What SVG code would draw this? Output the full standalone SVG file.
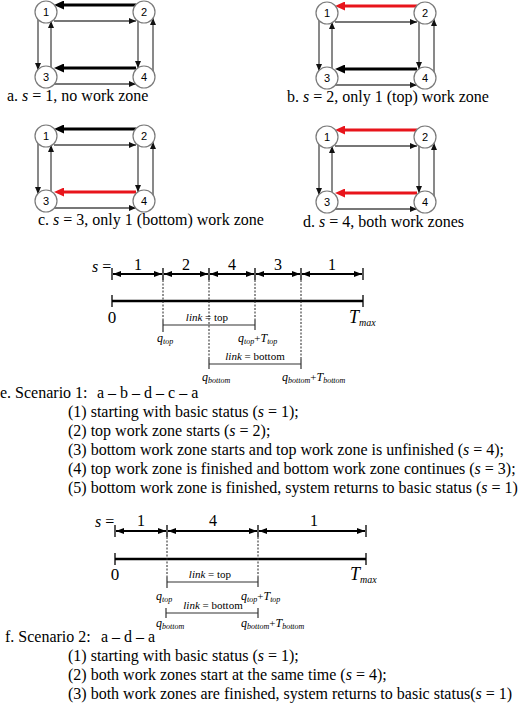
<svg xmlns="http://www.w3.org/2000/svg" width="520" height="720" viewBox="0 0 520 720">
<style>
text{font-family:"Liberation Serif","Times New Roman",serif;fill:#000}
.lbl{font-size:16px}
.nd{font-family:"Liberation Sans",Arial,sans-serif;font-size:11px;text-anchor:middle}
.circ{fill:#fff;stroke:#7a7a7a;stroke-width:1.2}
.thin{stroke:#4a4a4a;stroke-width:1.3;fill:none}
.thick{stroke:#000;stroke-width:3;fill:none}
.red{stroke:#e8141b;stroke-width:3;fill:none}
.tl{stroke:#000;stroke-width:2;fill:none}
.tick{stroke:#000;stroke-width:1.3}
.main{stroke:#000;stroke-width:2.4}
.dash{stroke:#222;stroke-width:1;stroke-dasharray:2 1.5;fill:none}
.bar{stroke:#333;stroke-width:1.2;fill:none}
.sm{font-size:11px}
.q{font-size:12px;font-style:italic}
.i{font-style:italic}
.sub{font-size:8px;font-style:italic}
</style>
<defs>
<marker id="hn" markerUnits="userSpaceOnUse" markerWidth="7" markerHeight="6" refX="7" refY="3" orient="auto"><path d="M0,0 L7,3 L0,6 z" fill="#111"/></marker>
<marker id="hk" markerUnits="userSpaceOnUse" markerWidth="10" markerHeight="9" refX="2" refY="4.5" orient="auto"><path d="M0,0 L10,4.5 L0,9 z" fill="#000"/></marker>
<marker id="hr" markerUnits="userSpaceOnUse" markerWidth="10" markerHeight="9" refX="2" refY="4.5" orient="auto"><path d="M0,0 L10,4.5 L0,9 z" fill="#e8141b"/></marker>
<marker id="ta" markerUnits="userSpaceOnUse" markerWidth="8" markerHeight="6" refX="8" refY="3" orient="auto-start-reverse"><path d="M0,0 L8,3 L0,6 z" fill="#000"/></marker>
</defs>

<!-- Panel a -->
<g id="panel-a">
<g id="a-connectors">
<line class="thick" x1="136" y1="5" x2="62" y2="5" marker-end="url(#hk)"/>
<line class="thin" x1="54" y1="21" x2="136" y2="21" marker-end="url(#hn)"/>
<line class="thin" x1="38" y1="19" x2="38" y2="70" marker-end="url(#hn)"/>
<line class="thin" x1="51" y1="68" x2="51" y2="21" marker-end="url(#hn)"/>
<line class="thin" x1="138" y1="21" x2="138" y2="68" marker-end="url(#hn)"/>
<line class="thin" x1="153" y1="71" x2="153" y2="18" marker-end="url(#hn)"/>
<line class="thick" x1="136" y1="68" x2="62" y2="68" marker-end="url(#hk)"/>
<line class="thin" x1="54" y1="84" x2="136" y2="84" marker-end="url(#hn)"/>
</g>
<g id="a-n1"><circle class="circ" cx="46" cy="12" r="11"/><text class="nd" x="46" y="16">1</text></g>
<g id="a-n2"><circle class="circ" cx="144" cy="12" r="11"/><text class="nd" x="144" y="16">2</text></g>
<g id="a-n3"><circle class="circ" cx="46" cy="77" r="11"/><text class="nd" x="46" y="81">3</text></g>
<g id="a-n4"><circle class="circ" cx="144" cy="77" r="11"/><text class="nd" x="144" y="81">4</text></g>
<text class="lbl" x="7" y="101">a. <tspan class="i">s</tspan> = 1, no work zone</text>
</g>

<!-- Panel b -->
<g id="panel-b">
<g id="b-connectors" transform="translate(281,1)">
<line class="red" x1="136" y1="5" x2="62" y2="5" marker-end="url(#hr)"/>
<line class="thin" x1="54" y1="21" x2="136" y2="21" marker-end="url(#hn)"/>
<line class="thin" x1="38" y1="19" x2="38" y2="70" marker-end="url(#hn)"/>
<line class="thin" x1="51" y1="68" x2="51" y2="21" marker-end="url(#hn)"/>
<line class="thin" x1="138" y1="21" x2="138" y2="68" marker-end="url(#hn)"/>
<line class="thin" x1="153" y1="71" x2="153" y2="18" marker-end="url(#hn)"/>
<line class="thick" x1="136" y1="68" x2="62" y2="68" marker-end="url(#hk)"/>
<line class="thin" x1="54" y1="84" x2="136" y2="84" marker-end="url(#hn)"/>
</g>
<g transform="translate(281,1)">
<g id="b-n1"><circle class="circ" cx="46" cy="12" r="11"/><text class="nd" x="46" y="16">1</text></g>
<g id="b-n2"><circle class="circ" cx="144" cy="12" r="11"/><text class="nd" x="144" y="16">2</text></g>
<g id="b-n3"><circle class="circ" cx="46" cy="77" r="11"/><text class="nd" x="46" y="81">3</text></g>
<g id="b-n4"><circle class="circ" cx="144" cy="77" r="11"/><text class="nd" x="144" y="81">4</text></g>
</g>
<text class="lbl" x="287" y="102">b. <tspan class="i">s</tspan> = 2, only 1 (top) work zone</text>
</g>

<!-- Panel c -->
<g id="panel-c">
<g id="c-connectors" transform="translate(0,124)">
<line class="thick" x1="136" y1="5" x2="62" y2="5" marker-end="url(#hk)"/>
<line class="thin" x1="54" y1="21" x2="136" y2="21" marker-end="url(#hn)"/>
<line class="thin" x1="38" y1="19" x2="38" y2="70" marker-end="url(#hn)"/>
<line class="thin" x1="51" y1="68" x2="51" y2="21" marker-end="url(#hn)"/>
<line class="thin" x1="138" y1="21" x2="138" y2="68" marker-end="url(#hn)"/>
<line class="thin" x1="153" y1="71" x2="153" y2="18" marker-end="url(#hn)"/>
<line class="red" x1="136" y1="68" x2="62" y2="68" marker-end="url(#hr)"/>
<line class="thin" x1="54" y1="84" x2="136" y2="84" marker-end="url(#hn)"/>
</g>
<g transform="translate(0,124)">
<g id="c-n1"><circle class="circ" cx="46" cy="12" r="11"/><text class="nd" x="46" y="16">1</text></g>
<g id="c-n2"><circle class="circ" cx="144" cy="12" r="11"/><text class="nd" x="144" y="16">2</text></g>
<g id="c-n3"><circle class="circ" cx="46" cy="77" r="11"/><text class="nd" x="46" y="81">3</text></g>
<g id="c-n4"><circle class="circ" cx="144" cy="77" r="11"/><text class="nd" x="144" y="81">4</text></g>
</g>
<text class="lbl" x="38" y="225">c. <tspan class="i">s</tspan> = 3, only 1 (bottom) work zone</text>
</g>

<!-- Panel d -->
<g id="panel-d">
<g id="d-connectors" transform="translate(281,125)">
<line class="red" x1="136" y1="5" x2="62" y2="5" marker-end="url(#hr)"/>
<line class="thin" x1="54" y1="21" x2="136" y2="21" marker-end="url(#hn)"/>
<line class="thin" x1="38" y1="19" x2="38" y2="70" marker-end="url(#hn)"/>
<line class="thin" x1="51" y1="68" x2="51" y2="21" marker-end="url(#hn)"/>
<line class="thin" x1="138" y1="21" x2="138" y2="68" marker-end="url(#hn)"/>
<line class="thin" x1="153" y1="71" x2="153" y2="18" marker-end="url(#hn)"/>
<line class="red" x1="136" y1="68" x2="62" y2="68" marker-end="url(#hr)"/>
<line class="thin" x1="54" y1="84" x2="136" y2="84" marker-end="url(#hn)"/>
</g>
<g transform="translate(281,125)">
<g id="d-n1"><circle class="circ" cx="46" cy="12" r="11"/><text class="nd" x="46" y="16">1</text></g>
<g id="d-n2"><circle class="circ" cx="144" cy="12" r="11"/><text class="nd" x="144" y="16">2</text></g>
<g id="d-n3"><circle class="circ" cx="46" cy="77" r="11"/><text class="nd" x="46" y="81">3</text></g>
<g id="d-n4"><circle class="circ" cx="144" cy="77" r="11"/><text class="nd" x="144" y="81">4</text></g>
</g>
<text class="lbl" x="303" y="227">d. <tspan class="i">s</tspan> = 4, both work zones</text>
</g>

<!-- Timeline e -->
<g id="timeline-e">
<text class="lbl" x="92" y="272"><tspan class="i">s</tspan> =</text>
<g id="e-arrows">
<line class="tick" x1="112" y1="268" x2="112" y2="280"/>
<line class="tick" x1="163" y1="268" x2="163" y2="280"/>
<line class="tick" x1="209" y1="268" x2="209" y2="280"/>
<line class="tick" x1="255" y1="268" x2="255" y2="280"/>
<line class="tick" x1="301" y1="268" x2="301" y2="280"/>
<line class="tick" x1="363" y1="268" x2="363" y2="280"/>
<line class="tl" x1="113" y1="274" x2="162" y2="274" marker-start="url(#ta)" marker-end="url(#ta)"/>
<line class="tl" x1="164" y1="274" x2="208" y2="274" marker-start="url(#ta)" marker-end="url(#ta)"/>
<line class="tl" x1="210" y1="274" x2="254" y2="274" marker-start="url(#ta)" marker-end="url(#ta)"/>
<line class="tl" x1="256" y1="274" x2="300" y2="274" marker-start="url(#ta)" marker-end="url(#ta)"/>
<line class="tl" x1="302" y1="274" x2="362" y2="274" marker-start="url(#ta)" marker-end="url(#ta)"/>
</g>
<text class="lbl" x="138" y="270" text-anchor="middle">1</text>
<text class="lbl" x="186" y="270" text-anchor="middle">2</text>
<text class="lbl" x="232" y="270" text-anchor="middle">4</text>
<text class="lbl" x="278" y="270" text-anchor="middle">3</text>
<text class="lbl" x="332" y="270" text-anchor="middle">1</text>
<line class="main" x1="112" y1="301" x2="363" y2="301"/>
<line class="tick" x1="112" y1="295" x2="112" y2="307"/>
<line class="tick" x1="363" y1="295" x2="363" y2="307"/>
<text x="112" y="323" font-size="17" text-anchor="middle">0</text>
<text x="349" y="323"><tspan class="i" font-size="18">T</tspan><tspan class="i" font-size="10" dy="3">max</tspan></text>
<line class="dash" x1="163" y1="280" x2="163" y2="320"/>
<line class="dash" x1="255" y1="280" x2="255" y2="320"/>
<line class="dash" x1="209" y1="280" x2="209" y2="359"/>
<line class="dash" x1="301" y1="280" x2="301" y2="359"/>
<line class="bar" x1="163" y1="325" x2="255" y2="325"/>
<line class="bar" x1="163" y1="320" x2="163" y2="332"/>
<line class="bar" x1="255" y1="320" x2="255" y2="330"/>
<text class="sm" x="207" y="321" text-anchor="middle"><tspan class="i">link</tspan> = top</text>
<text x="157" y="342"><tspan class="q">q</tspan><tspan class="sub" dy="2">top</tspan></text>
<text x="238" y="342"><tspan class="q">q</tspan><tspan class="sub" dy="2">top</tspan><tspan font-size="11" dy="-2">+</tspan><tspan class="q">T</tspan><tspan class="sub" dy="2">top</tspan></text>
<line class="bar" x1="209" y1="364" x2="301" y2="364"/>
<line class="bar" x1="209" y1="359" x2="209" y2="369"/>
<line class="bar" x1="301" y1="359" x2="301" y2="369"/>
<text class="sm" x="255" y="360" text-anchor="middle"><tspan class="i">link</tspan> = bottom</text>
<text x="202" y="381"><tspan class="q">q</tspan><tspan class="sub" dy="2">bottom</tspan></text>
<text x="282" y="381"><tspan class="q">q</tspan><tspan class="sub" dy="2">bottom</tspan><tspan font-size="11" dy="-2">+</tspan><tspan class="q">T</tspan><tspan class="sub" dy="2">bottom</tspan></text>
</g>

<g id="text-e">
<text class="lbl" x="0" y="398">e. Scenario 1:</text>
<text class="lbl" x="97" y="398">a – b – d – c – a</text>
<text class="lbl" x="68" y="417">(1) starting with basic status (<tspan class="i">s</tspan> = 1);</text>
<text class="lbl" x="68" y="436">(2) top work zone starts (<tspan class="i">s</tspan> = 2);</text>
<text class="lbl" x="68" y="455">(3) bottom work zone starts and top work zone is unfinished (<tspan class="i">s</tspan> = 4);</text>
<text class="lbl" x="68" y="474">(4) top work zone is finished and bottom work zone continues (<tspan class="i">s</tspan> = 3);</text>
<text class="lbl" x="68" y="493">(5) bottom work zone is finished, system returns to basic status (<tspan class="i">s</tspan> = 1)</text>
</g>

<!-- Timeline f -->
<g id="timeline-f">
<text class="lbl" x="95" y="527"><tspan class="i">s</tspan> =</text>
<g id="f-arrows">
<line class="tick" x1="115" y1="525" x2="115" y2="537"/>
<line class="tick" x1="167" y1="525" x2="167" y2="537"/>
<line class="tick" x1="258" y1="525" x2="258" y2="537"/>
<line class="tick" x1="366" y1="525" x2="366" y2="537"/>
<line class="tl" x1="116" y1="531" x2="166" y2="531" marker-start="url(#ta)" marker-end="url(#ta)"/>
<line class="tl" x1="168" y1="531" x2="257" y2="531" marker-start="url(#ta)" marker-end="url(#ta)"/>
<line class="tl" x1="259" y1="531" x2="365" y2="531" marker-start="url(#ta)" marker-end="url(#ta)"/>
</g>
<text class="lbl" x="141" y="526" text-anchor="middle">1</text>
<text class="lbl" x="213" y="526" text-anchor="middle">4</text>
<text class="lbl" x="314" y="526" text-anchor="middle">1</text>
<line class="main" x1="115" y1="559" x2="366" y2="559"/>
<line class="tick" x1="115" y1="553" x2="115" y2="565"/>
<line class="tick" x1="366" y1="553" x2="366" y2="565"/>
<text x="115" y="580" font-size="17" text-anchor="middle">0</text>
<text x="350" y="580"><tspan class="i" font-size="18">T</tspan><tspan class="i" font-size="10" dy="3">max</tspan></text>
<line class="dash" x1="167" y1="537" x2="167" y2="577"/>
<line class="dash" x1="258" y1="537" x2="258" y2="577"/>
<line class="bar" x1="167" y1="582" x2="258" y2="582"/>
<line class="bar" x1="167" y1="577" x2="167" y2="588"/>
<line class="bar" x1="258" y1="577" x2="258" y2="587"/>
<text class="sm" x="210" y="578" text-anchor="middle"><tspan class="i">link</tspan> = top</text>
<text x="156" y="600"><tspan class="q">q</tspan><tspan class="sub" dy="2">top</tspan></text>
<text x="241" y="600"><tspan class="q">q</tspan><tspan class="sub" dy="2">top</tspan><tspan font-size="11" dy="-2">+</tspan><tspan class="q">T</tspan><tspan class="sub" dy="2">top</tspan></text>
<line class="bar" x1="166" y1="613" x2="258" y2="613"/>
<line class="bar" x1="166" y1="608" x2="166" y2="618"/>
<line class="bar" x1="258" y1="608" x2="258" y2="618"/>
<text class="sm" x="213" y="609" text-anchor="middle"><tspan class="i">link</tspan> = bottom</text>
<text x="156" y="627"><tspan class="q">q</tspan><tspan class="sub" dy="2">bottom</tspan></text>
<text x="241" y="627"><tspan class="q">q</tspan><tspan class="sub" dy="2">bottom</tspan><tspan font-size="11" dy="-2">+</tspan><tspan class="q">T</tspan><tspan class="sub" dy="2">bottom</tspan></text>
</g>

<g id="text-f">
<text class="lbl" x="5" y="642">f. Scenario 2:</text>
<text class="lbl" x="101" y="642">a – d – a</text>
<text class="lbl" x="68" y="661">(1) starting with basic status (<tspan class="i">s</tspan> = 1);</text>
<text class="lbl" x="68" y="680">(2) both work zones start at the same time (<tspan class="i">s</tspan> = 4);</text>
<text class="lbl" x="68" y="699">(3) both work zones are finished, system returns to basic status(<tspan class="i">s</tspan> = 1)</text>
</g>
</svg>
